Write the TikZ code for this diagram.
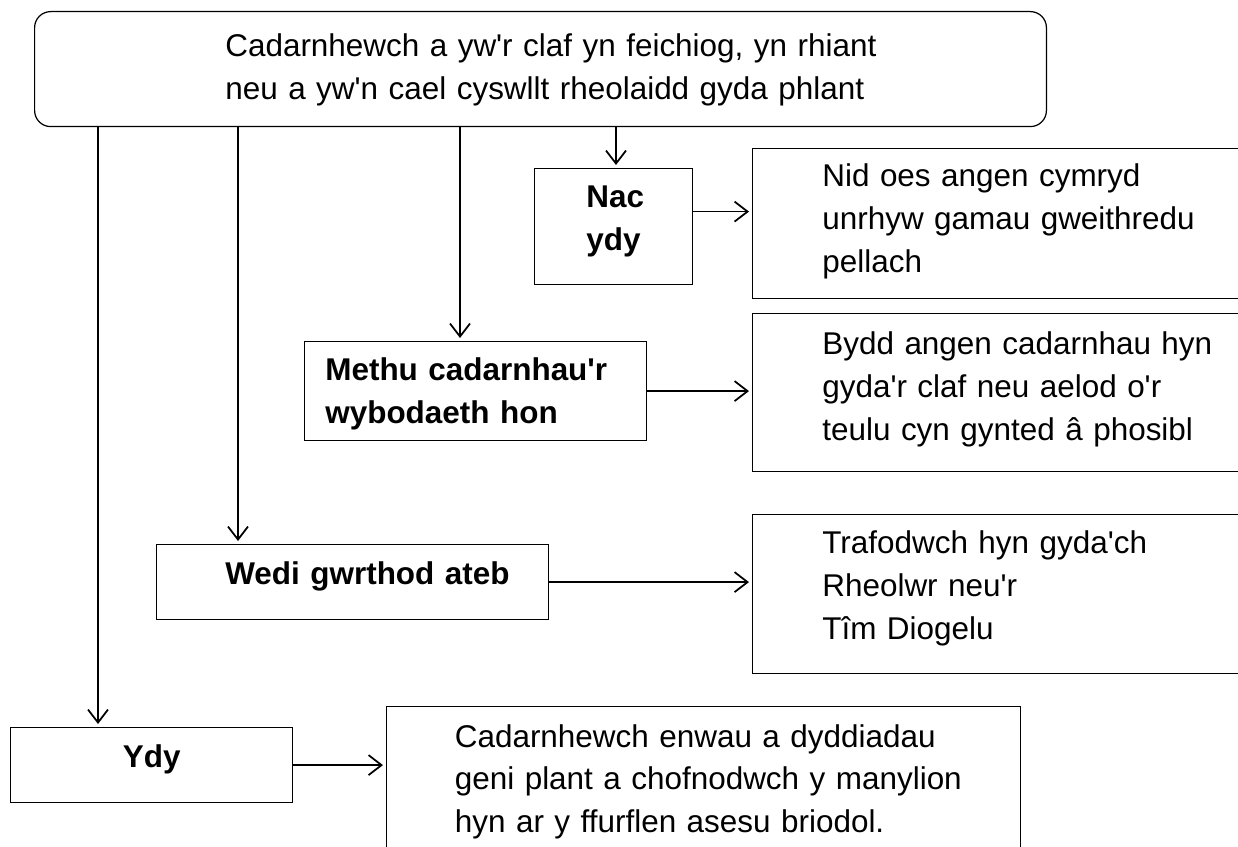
\documentclass[tikz,border=0pt]{standalone}
\usepackage{fontspec}
\setmainfont{Liberation Sans}
\usetikzlibrary{arrows.meta}
\newcommand{\ap}{\textquotesingle}

\begin{document}
\begin{tikzpicture}[x=.02cm,y=-.02cm,
    box/.style={draw,line width=.7pt,inner sep=0pt,anchor=north west},
    txt/.style={anchor=base west,inner sep=0pt,text width=14cm,align=left,
      font=\fontsize{17.9}{24.2}\selectfont},
    arr/.style={line width=1pt,-{Straight Barb[length=.26cm,width=.4cm]},shorten >=.06cm}]
  \useasboundingbox (0,0) rectangle (1238,847);
  \clip (0,0) rectangle (1238,847);

  % boxes
  \node[box,rounded corners=.32cm,minimum width=20.24cm,minimum height=2.3cm] (top) at (34,11) {};
  \node[box,minimum width=3.16cm,minimum height=2.32cm] (nac) at (534,168) {};
  \node[box,minimum width=10.96cm,minimum height=3cm] (nid) at (752,148) {};
  \node[box,minimum width=6.84cm,minimum height=1.98cm] (methu) at (304,341) {};
  \node[box,minimum width=10.96cm,minimum height=3.16cm] (bydd) at (752,313) {};
  \node[box,minimum width=7.84cm,minimum height=1.5cm] (wedi) at (156,544) {};
  \node[box,minimum width=10.96cm,minimum height=3.18cm] (trafod) at (752,514) {};
  \node[box,minimum width=5.64cm,minimum height=1.5cm] (ydy) at (10,727) {};
  \node[box,minimum width=12.68cm,minimum height=3.88cm] (cadarn) at (386,706) {};

  % texts
  \node[txt] (top-t) at (225,57) {Cadarnhewch a yw\ap r claf yn feichiog, yn rhiant\\neu a yw\ap n cael cyswllt rheolaidd gyda phlant};
  \node[txt,font=\fontsize{17.9}{24.2}\selectfont\bfseries] (nac-t) at (586,208) {Nac\\ydy};
  \node[txt] (nid-t) at (822,187) {Nid oes angen cymryd\\unrhyw gamau gweithredu\\pellach};
  \node[txt,font=\fontsize{17.9}{24.2}\selectfont\bfseries] (methu-t) at (325,380.5) {Methu cadarnhau\ap r\\wybodaeth hon};
  \node[txt] (bydd-t) at (822,355) {Bydd angen cadarnhau hyn\\gyda\ap r claf neu aelod o\ap r\\teulu cyn gynted â phosibl};
  \node[txt,font=\fontsize{17.9}{24.2}\selectfont\bfseries] (wedi-t) at (225,584.5) {Wedi gwrthod ateb};
  \node[txt] (trafod-t) at (822,554) {Trafodwch hyn gyda\ap ch\\Rheolwr neu\ap r\\Tîm Diogelu};
  \node[txt,font=\fontsize{17.9}{24.2}\selectfont\bfseries] (ydy-t) at (122.5,767) {Ydy};
  \node[txt] (cadarn-t) at (454.5,747) {Cadarnhewch enwau a dyddiadau\\geni plant a chofnodwch y manylion\\hyn ar y ffurflen asesu briodol.};

  % down arrows
  \coordinate (ydy-x) at (98,0);
  \coordinate (wedi-x) at (238,0);
  \coordinate (methu-x) at (460,0);
  \coordinate (nac-x) at (616,0);
  \draw[arr] (top.south -| ydy-x) -- (ydy.north -| ydy-x);
  \draw[arr] (top.south -| wedi-x) -- (wedi.north -| wedi-x);
  \draw[arr] (top.south -| methu-x) -- (methu.north -| methu-x);
  \draw[arr] (top.south -| nac-x) -- (nac.north -| nac-x);

  % side arrows
  \draw[arr] ([yshift=.3cm]nac.east) -- ([yshift=.3cm]nac.east -| nid.west);
  \draw[arr] (methu.east) -- (methu.east -| bydd.west);
  \draw[arr] (wedi.east) -- (wedi.east -| trafod.west);
  \draw[arr] (ydy.east) -- (ydy.east -| cadarn.west);
\end{tikzpicture}
\end{document}
